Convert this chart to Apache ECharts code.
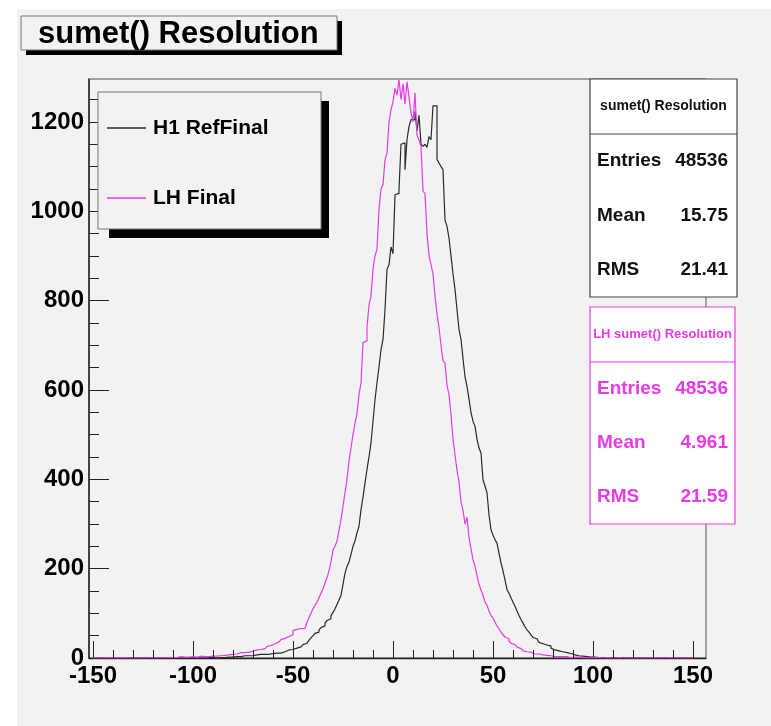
<!DOCTYPE html>
<html>
<head>
<meta charset="utf-8">
<script src="https://cdn.jsdelivr.net/npm/echarts@6/dist/echarts.min.js"></script>
<style>
html,body{margin:0;padding:0;background:#fff;}
#chart{width:771px;height:726px;}
</style>
</head>
<body>
<div id="chart"></div>
<script>
// ---- Data (1-unit bins, first bin starts at -150) ----
const binStart = -150;
const binWidth = 1;
const seriesNames = ['H1 RefFinal', 'LH Final'];

const refFinal = [
  0,0,0,0,0,0,0,0,0,0,
  0,0,0,0,0,0,0,0,0,0,
  0,0,0,0,1,0,0,0,0,0,
  0,0,0,1,0,0,0,0,1,0,
  0,0,1,0,0,0,1,0,0,1,
  0,0,1,0,1,0,0,1,0,1,
  1,0,1,1,2,1,2,2,3,2,
  3,3,4,3,4,5,4,5,6,5,
  6,7,6,8,7,8,9,8,9,10,
  9,11,12,11,13,14,15,18,17,19,
  20,22,23,25,27,30,33,36,40,45,
  50,55,58,63,68,72,78,84,88,95,
  102,110,120,130,140,165,190,205,215,232,
  250,262,280,295,332,360,392,422,450,482,
  530,578,616,652,690,713,780,870,880,920,
  905,1037,1040,1048,1150,1153,1093,1160,1190,1205,
  1205,1223,1180,1215,1150,1145,1150,1143,1167,1160,
  1236,1236,1116,1108,1100,1093,980,966,940,900,
  860,825,780,735,713,670,630,608,580,549,
  530,519,490,470,459,399,385,370,320,287,
  275,265,257,235,213,195,175,153,145,135,
  125,116,105,95,86,78,70,63,58,52,
  46,43,41,35,32,30,29,30,27,22,
  18,15,16,13,14,11,12,9,10,8,
  7,6,5,6,4,5,3,4,2,3,
  2,2,1,2,1,1,0,1,0,0,
  1,0,0,0,1,0,0,0,0,0,
  0,0,0,0,0,0,0,0,0,0,
  0,0,0,0,0,0,0,0,0,0,
  0,0,0,0,0,0,0,0,0,0
];

const lhFinal = [
  0,0,1,0,0,0,0,1,0,0,
  0,1,0,0,0,1,0,0,1,0,
  0,0,1,0,1,0,0,1,0,1,
  1,0,2,1,1,0,2,1,2,1,
  2,1,2,3,1,2,3,2,2,3,
  3,2,3,4,2,3,4,3,5,4,
  5,4,6,5,7,6,8,7,9,8,
  10,9,11,12,10,12,14,13,16,15,
  17,18,20,19,22,21,24,26,28,30,
  32,35,36,38,41,44,45,48,50,52,
  62,64,63,66,62,66,70,80,90,100,
  110,118,125,135,145,155,168,180,195,215,
  242,250,262,285,310,340,370,400,440,470,
  500,525,548,590,615,706,710,740,790,810,
  870,900,915,1005,1050,1060,1115,1130,1200,1227,
  1245,1275,1260,1295,1250,1285,1240,1290,1255,1220,
  1200,1265,1170,1160,1145,1045,1040,950,900,880,
  860,810,770,740,700,665,660,610,590,545,
  490,455,420,395,350,330,300,315,270,245,
  220,205,185,165,152,140,125,118,105,95,
  90,80,72,66,58,52,47,43,38,33,
  30,27,25,21,18,16,14,12,13,10,
  9,8,9,6,7,5,6,4,5,4,
  3,4,3,2,3,2,3,2,1,2,
  2,1,2,1,1,2,1,1,0,1,
  1,0,1,1,0,0,1,0,0,1,
  0,0,1,0,0,0,0,1,0,0,
  0,0,0,1,0,0,0,0,0,0,
  1,0,0,0,0,0,0,0,1,0,
  0,0,0,0,0,1,0,0,0,0
];

const xMajorTicks = [-150, -100, -50, 0, 50, 100, 150];
const xMinorTicks = [-140,-130,-120,-110,-90,-80,-70,-60,-40,-30,-20,-10,10,20,30,40,60,70,80,90,110,120,130,140];
const yMajorTicks = [0, 200, 400, 600, 800, 1000, 1200];
const yMinorTicks = [50,100,150,250,300,350,450,500,550,650,700,750,850,900,950,1050,1100,1150,1250];

const statsRef = {title: 'sumet() Resolution', entries: '48536', mean: '15.75', rms: '21.41'};
const statsLH = {title: 'LH sumet() Resolution', entries: '48536', mean: '4.961', rms: '21.59'};

// ---- Build step data ----
function toSteps(counts) {
  const pts = [];
  for (let i = 0; i < counts.length; i++) pts.push([binStart + i * binWidth, counts[i]]);
  pts.push([binStart + counts.length * binWidth, counts[counts.length - 1]]);
  return pts;
}

const FONT = 'Liberation Sans, Arial, Helvetica, sans-serif';
const MAG = '#e63be6';
const BLK = '#2a2a2a';
const X_MIN = -152, X_MAX = 156.5, Y_MAX = 1296;
const chart = echarts.init(document.getElementById('chart'), null, {renderer: 'canvas'});

function statBox(x, y, w, h, sepY, color, s, titleSize) {
  const els = [];
  els.push({type: 'rect', z: 10, shape: {x: x, y: y, width: w, height: h},
    style: {fill: '#ffffff', stroke: color, lineWidth: 1.2}});
  els.push({type: 'line', z: 10, shape: {x1: x, y1: sepY, x2: x + w, y2: sepY},
    style: {stroke: color, lineWidth: 1.2}});
  const tc = color === MAG ? MAG : '#111';
  els.push({type: 'text', z: 11, x: x + w / 2, y: y + (sepY - y) / 2,
    style: {text: s.title, fill: tc, font: 'bold ' + titleSize + 'px ' + FONT, align: 'center', verticalAlign: 'middle'}});
  const rows = [['Entries', s.entries], ['Mean', s.mean], ['RMS', s.rms]];
  const rowH = (y + h - sepY) / 3;
  rows.forEach(function (r, i) {
    const cy = sepY + rowH * (i + 0.5);
    els.push({type: 'text', z: 11, x: x + 7, y: cy,
      style: {text: r[0], fill: tc, font: 'bold 19px ' + FONT, align: 'left', verticalAlign: 'middle'}});
    els.push({type: 'text', z: 11, x: 728, y: cy,
      style: {text: r[1], fill: tc, font: 'bold 19px ' + FONT, align: 'right', verticalAlign: 'middle'}});
  });
  return els;
}

const graphics = [
  {type: 'rect', z: -10, silent: true, shape: {x: 17, y: 9, width: 760, height: 720}, style: {fill: '#f2f2f2'}},
  // title box
  {type: 'rect', z: 9, shape: {x: 26, y: 21, width: 316, height: 34}, style: {fill: '#000'}},
  {type: 'rect', z: 10, shape: {x: 21, y: 16, width: 316, height: 34}, style: {fill: '#f2f2f2', stroke: '#777', lineWidth: 1}},
  // legend box
  {type: 'rect', z: 9, shape: {x: 109, y: 101, width: 220, height: 137}, style: {fill: '#000'}},
  {type: 'rect', z: 10, shape: {x: 98, y: 92, width: 223, height: 137}, style: {fill: '#f2f2f2', stroke: '#777', lineWidth: 1}}
].concat(statBox(590, 79, 147, 218, 134, '#444', statsRef, 14))
 .concat(statBox(590, 307, 145, 217, 362, MAG, statsLH, 13));

const plain = function (v) { return String(v); };
const gridBox = {left: 89, right: 65, top: 79, bottom: 68};

const option = {
  animation: false,
  backgroundColor: '#ffffff',
  title: {
    text: 'sumet() Resolution',
    left: 33, top: 14, z: 20,
    textStyle: {fontFamily: FONT, fontWeight: 'bold', fontSize: 31, color: '#000'}
  },
  legend: {
    orient: 'vertical', left: 107, top: 117, z: 20, padding: 0,
    itemWidth: 39, itemHeight: 1.3, itemGap: 48,
    icon: 'rect',
    data: seriesNames,
    textStyle: {fontFamily: FONT, fontWeight: 'bold', fontSize: 21, color: '#000', padding: [0, 0, 0, 2], lineHeight: 22}
  },
  grid: [
    Object.assign({show: true, borderColor: '#555', borderWidth: 1, backgroundColor: 'transparent'}, gridBox),
    Object.assign({show: false}, gridBox)
  ],
  xAxis: [
    {type: 'value', gridIndex: 0, min: X_MIN, max: X_MAX, position: 'bottom',
      axisLine: {show: true, onZero: false, lineStyle: {color: '#222', width: 1.3}},
      axisTick: {show: true, inside: true, length: 17, customValues: xMajorTicks, lineStyle: {color: '#222'}},
      axisLabel: {show: true, customValues: xMajorTicks, formatter: plain, margin: 6, fontFamily: FONT, fontWeight: 'bold', fontSize: 24, color: '#000'},
      splitLine: {show: false}},
    {type: 'value', gridIndex: 1, min: X_MIN, max: X_MAX, show: false}
  ],
  yAxis: [
    {type: 'value', gridIndex: 0, min: 0, max: Y_MAX, position: 'left',
      axisLine: {show: true, onZero: false, lineStyle: {color: '#222', width: 1.5}},
      axisTick: {show: true, inside: true, length: 20, customValues: yMajorTicks, lineStyle: {color: '#222'}},
      axisLabel: {show: true, customValues: yMajorTicks, formatter: plain, margin: 5, fontFamily: FONT, fontWeight: 'bold', fontSize: 24, color: '#000'},
      splitLine: {show: false}},
    {type: 'value', gridIndex: 1, min: 0, max: Y_MAX, position: 'left',
      axisLine: {show: false, onZero: false},
      axisTick: {show: true, inside: true, length: 10, customValues: yMinorTicks, lineStyle: {color: '#222'}},
      axisLabel: {show: false}, splitLine: {show: false}}
  ],
  series: [
    {name: seriesNames[0], type: 'line', xAxisIndex: 0, yAxisIndex: 0, step: 'end', symbol: 'none', showSymbol: false,
      data: toSteps(refFinal), lineStyle: {color: BLK, width: 1.2}, itemStyle: {color: BLK}, z: 3},
    {name: seriesNames[1], type: 'line', xAxisIndex: 0, yAxisIndex: 0, step: 'end', symbol: 'none', showSymbol: false,
      data: toSteps(lhFinal), lineStyle: {color: MAG, width: 1.2}, itemStyle: {color: MAG}, z: 4}
  ],
  graphic: {elements: graphics}
};
chart.setOption(option);

// Minor x ticks: positions come from the chart's own x scale
const baseY = chart.convertToPixel({yAxisIndex: 0}, 0);
const minorTickEls = xMinorTicks.map(function (v) {
  const px = Math.round(chart.convertToPixel({xAxisIndex: 0}, v)) + 0.5;
  return {type: 'line', z: 12, silent: true,
    shape: {x1: px, y1: baseY, x2: px, y2: baseY - 8},
    style: {stroke: '#222', lineWidth: 1}};
});
chart.setOption({graphic: {elements: graphics.concat(minorTickEls)}});
</script>
</body>
</html>
